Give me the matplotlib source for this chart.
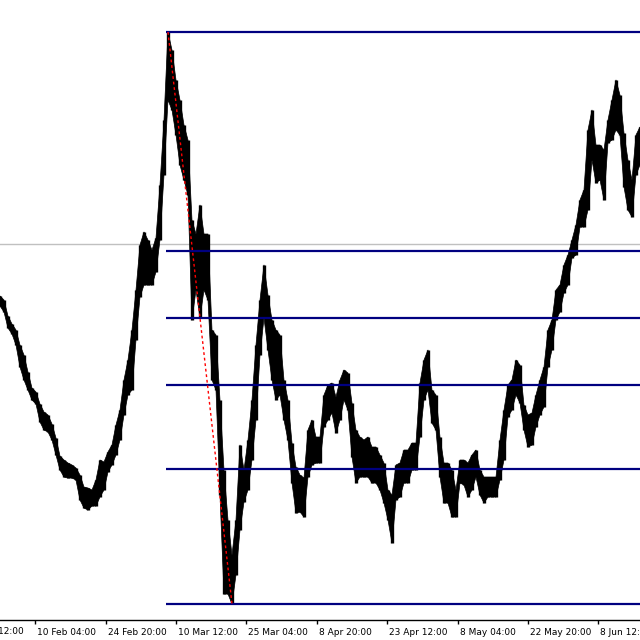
import matplotlib
matplotlib.use('Agg')
import matplotlib.pyplot as plt
import matplotlib.transforms as mtransforms
import numpy as np

# 4H bars, sampled every 5 bars (high / low of each sample)
bars = np.arange(0, 805, 5)

high = [1.1308, 1.1304, 1.1288, 1.1280, 1.1274, 1.1259, 1.1249, 1.1232,
        1.1216, 1.1212, 1.1200, 1.1192, 1.1189, 1.1180, 1.1166, 1.1148,
        1.1144, 1.1141, 1.1139, 1.1136, 1.1129, 1.1117, 1.1116, 1.1114,
        1.1124, 1.1144, 1.1142, 1.1152, 1.1159, 1.1179, 1.1194, 1.1224,
        1.1244, 1.1274, 1.1314, 1.1359, 1.1372, 1.1364, 1.1354, 1.1366,
        1.1419, 1.1484, 1.1572, 1.1554, 1.1524, 1.1504, 1.1479, 1.1464,
        1.1384, 1.1370, 1.1399, 1.1370, 1.1370, 1.1274, 1.1269, 1.1204,
        1.1134, 1.1084, 1.1049, 1.1084, 1.1159, 1.1134, 1.1164, 1.1204,
        1.1259, 1.1304, 1.1339, 1.1309, 1.1284, 1.1274, 1.1269, 1.1224,
        1.1204, 1.1161, 1.1137, 1.1129, 1.1126, 1.1174, 1.1184, 1.1167,
        1.1167, 1.1209, 1.1219, 1.1221, 1.1207, 1.1224, 1.1234, 1.1231,
        1.1201, 1.1174, 1.1167, 1.1164, 1.1167, 1.1157, 1.1157, 1.1149,
        1.1141, 1.1114, 1.1109, 1.1139, 1.1141, 1.1154, 1.1154, 1.1161,
        1.1161, 1.1221, 1.1244, 1.1254, 1.1214, 1.1209, 1.1167, 1.1141,
        1.1141, 1.1134, 1.1114, 1.1144, 1.1144, 1.1141, 1.1149, 1.1154,
        1.1134, 1.1127, 1.1127, 1.1127, 1.1127, 1.1164, 1.1194, 1.1219,
        1.1224, 1.1244, 1.1239, 1.1199, 1.1189, 1.1191, 1.1209, 1.1224,
        1.1237, 1.1274, 1.1284, 1.1314, 1.1319, 1.1339, 1.1349, 1.1364,
        1.1379, 1.1404, 1.1414, 1.1474, 1.1494, 1.1459, 1.1459, 1.1454,
        1.1484, 1.1504, 1.1524, 1.1509, 1.1471, 1.1444, 1.1424, 1.1469,
        1.1477]

low = [1.1298, 1.1292, 1.1276, 1.1270, 1.1259, 1.1237, 1.1224, 1.1214,
       1.1204, 1.1200, 1.1182, 1.1174, 1.1172, 1.1164, 1.1149, 1.1134,
       1.1127, 1.1126, 1.1126, 1.1124, 1.1104, 1.1096, 1.1094, 1.1098,
       1.1098, 1.1107, 1.1114, 1.1132, 1.1139, 1.1149, 1.1164, 1.1189,
       1.1209, 1.1214, 1.1264, 1.1307, 1.1319, 1.1319, 1.1319, 1.1332,
       1.1364, 1.1429, 1.1504, 1.1494, 1.1469, 1.1439, 1.1424, 1.1409,
       1.1284, 1.1314, 1.1286, 1.1314, 1.1304, 1.1224, 1.1214, 1.1109,
       1.1010, 1.1010, 1.1000, 1.1029, 1.1074, 1.1102, 1.1114, 1.1144,
       1.1184, 1.1249, 1.1286, 1.1254, 1.1224, 1.1204, 1.1209, 1.1184,
       1.1164, 1.1121, 1.1091, 1.1092, 1.1087, 1.1127, 1.1139, 1.1141,
       1.1141, 1.1177, 1.1184, 1.1191, 1.1171, 1.1184, 1.1204, 1.1194,
       1.1147, 1.1121, 1.1127, 1.1127, 1.1127, 1.1121, 1.1121, 1.1114,
       1.1101, 1.1084, 1.1061, 1.1104, 1.1107, 1.1121, 1.1121, 1.1134,
       1.1134, 1.1167, 1.1204, 1.1214, 1.1181, 1.1174, 1.1127, 1.1101,
       1.1101, 1.1087, 1.1087, 1.1121, 1.1119, 1.1107, 1.1114, 1.1127,
       1.1109, 1.1101, 1.1107, 1.1107, 1.1107, 1.1124, 1.1144, 1.1187,
       1.1194, 1.1209, 1.1201, 1.1174, 1.1157, 1.1159, 1.1177, 1.1189,
       1.1197, 1.1237, 1.1254, 1.1284, 1.1292, 1.1311, 1.1319, 1.1346,
       1.1349, 1.1377, 1.1377, 1.1394, 1.1444, 1.1421, 1.1424, 1.1404,
       1.1461, 1.1464, 1.1474, 1.1469, 1.1417, 1.1394, 1.1387, 1.1429,
       1.1439]

tick_bars = [44, 132, 220, 308, 396, 484, 572, 660, 748]
tick_labels = ['10 Feb 04:00', '24 Feb 20:00', '10 Mar 12:00', '25 Mar 04:00',
               '8 Apr 20:00', '23 Apr 12:00', '8 May 04:00', '22 May 20:00',
               '8 Jun 12:00']

fib_levels = [0.0, 0.236, 0.382, 0.5, 0.618, 1.0]
bid_price = 1.1360

high = np.array(high)
low = np.array(low)

fig = plt.figure(figsize=(6.4, 6.4), dpi=100)
ax = fig.add_axes([0, 20 / 640, 1, 620 / 640])
ax.set_xlim(0, 800)
ax.set_ylim(1.0984, 1.1604)

# bid line
ax.axhline(bid_price, color='#c0c0c0', lw=1, zorder=1)

# price bars
ax.fill_between(bars, low, high, color='black', lw=0.5, zorder=2)
ax.vlines(bars, low, high, color='black', lw=2.4, zorder=2)

# fibonacci retracement from swing high to swing low
i_hi = int(np.argmax(high))
i_lo = int(np.argmin(low))
top, bot = high[i_hi], low[i_lo]
for lv in fib_levels:
    y = bot + lv * (top - bot)
    ax.plot([bars[i_hi] - 2, 800], [y, y], color='#000080', lw=1.6, zorder=3,
            solid_capstyle='butt')
ax.plot([bars[i_hi], bars[i_lo]], [top, bot], color='red', ls=(0, (2, 2)),
        lw=1, zorder=4)

# axes styling
for s in ['top', 'right', 'left']:
    ax.spines[s].set_visible(False)
ax.spines['bottom'].set_linewidth(1)
ax.set_yticks([])
ax.set_xticks(tick_bars)
ax.set_xticklabels(tick_labels, fontsize=6.5, ha='left')
ax.tick_params(axis='x', direction='out', length=3, width=1, pad=3)
offset = mtransforms.ScaledTranslation(2 / 100, 0, fig.dpi_scale_trans)
for lab in ax.get_xticklabels():
    lab.set_transform(lab.get_transform() + offset)

# partial label cut by the left edge
ax.text(-44 + 2.5, -0.012, '26 Jan 12:00', fontsize=6.5, ha='left', va='top',
        transform=mtransforms.blended_transform_factory(ax.transData, ax.transAxes),
        clip_on=False)

fig.savefig('out.png', dpi=100)
